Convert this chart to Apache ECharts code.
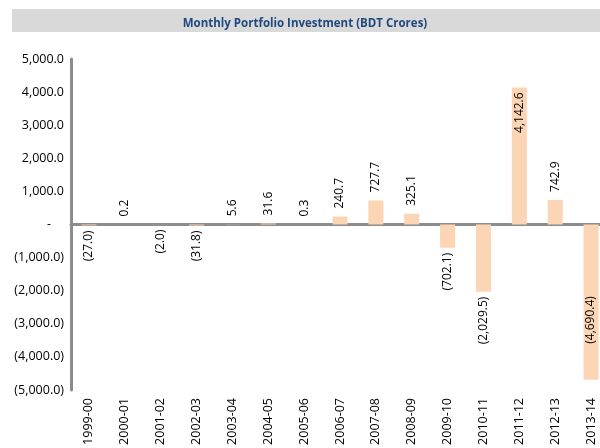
<!DOCTYPE html>
<html>
<head>
<meta charset="utf-8">
<script src="https://cdn.jsdelivr.net/npm/echarts@6/dist/echarts.min.js"></script>
<style>
  html, body { margin: 0; padding: 0; background: #fff; overflow: hidden; width: 600px; height: 448px; }
  #chart { width: 609px; height: 448px; }
</style>
</head>
<body>
<div id="chart"></div>
<script>
// Monthly Portfolio Investment (BDT Crores)
var years = ['1999-00', '2000-01', '2001-02', '2002-03', '2003-04', '2004-05', '2005-06',
  '2006-07', '2007-08', '2008-09', '2009-10', '2010-11', '2011-12', '2012-13', '2013-14'];
var investment = [-27.0, 0.2, -2.0, -31.8, 5.6, 31.6, 0.3,
  240.7, 727.7, 325.1, -702.1, -2029.5, 4142.6, 742.9, -4690.4];
var yTicks = [-5000, -4000, -3000, -2000, -1000, 0, 1000, 2000, 3000, 4000, 5000];

function fmt(v) {
  var s = Math.abs(v).toFixed(1).replace(/\B(?=(\d{3})+(?!\d))/g, ',');
  return v < 0 ? '(' + s + ')' : s;
}

var font = '"Open Sans", "Liberation Sans", sans-serif';

// label placement: outside end normally, inside end for the tall bars
var barData = investment.map(function (v) {
  var lbl;
  if (v > 4000) {
    lbl = { position: 'insideTop', align: 'right', distance: 5 };
  } else if (v < -4000) {
    lbl = { position: 'insideBottom', align: 'left', distance: 36 };
  } else if (v >= 0) {
    lbl = { position: 'top', align: 'left', distance: 8 };
  } else {
    lbl = { position: 'bottom', align: 'right', distance: 5 };
  }
  return { value: v, label: lbl };
});

var chart = echarts.init(document.getElementById('chart'));
chart.setOption({
  animation: false,
  graphic: [{
    type: 'rect',
    shape: { x: 12, y: 9, width: 597, height: 23 },
    style: { fill: '#d9d9d9' },
    z: -1
  }],
  title: {
    text: 'Monthly Portfolio Investment (BDT Crores)',
    left: 300,
    textAlign: 'center',
    top: 13,
    textStyle: { color: '#1f497d', fontSize: 11.5, fontWeight: 'bold', fontFamily: font }
  },
  grid: { left: 71, right: 0, top: 59, bottom: 58 },
  xAxis: [{
    type: 'category',
    data: years,
    position: 'bottom',
    axisLine: { show: false, onZero: false },
    axisTick: { show: false },
    axisLabel: { rotate: 90, margin: 8, color: '#000', fontSize: 12.5, fontFamily: font, interval: 0 }
  }, {
    type: 'category',
    data: years,
    position: 'top',
    axisLine: { onZero: true, lineStyle: { color: '#8c8c8c', width: 3 } },
    axisTick: { show: false },
    axisLabel: { show: false }
  }],
  yAxis: {
    type: 'value',
    min: yTicks[0],
    max: yTicks[yTicks.length - 1],
    interval: 1000,
    axisLine: { show: true, lineStyle: { color: '#8c8c8c', width: 3 } },
    axisTick: { show: false },
    splitLine: { show: false },
    axisLabel: {
      margin: 7,
      color: '#000',
      fontSize: 12.5,
      fontFamily: font,
      formatter: function (v) { return v === 0 ? '-    ' : fmt(v); }
    }
  },
  series: [{
    name: 'Portfolio Investment',
    type: 'bar',
    xAxisIndex: 0,
    data: barData,
    barWidth: '42%',
    itemStyle: { color: '#fcd5b5' },
    label: {
      show: true,
      rotate: 90,
      verticalAlign: 'middle',
      color: '#000',
      fontSize: 12,
      fontFamily: font,
      formatter: function (p) { return fmt(p.value); }
    }
  }]
});
</script>
</body>
</html>
